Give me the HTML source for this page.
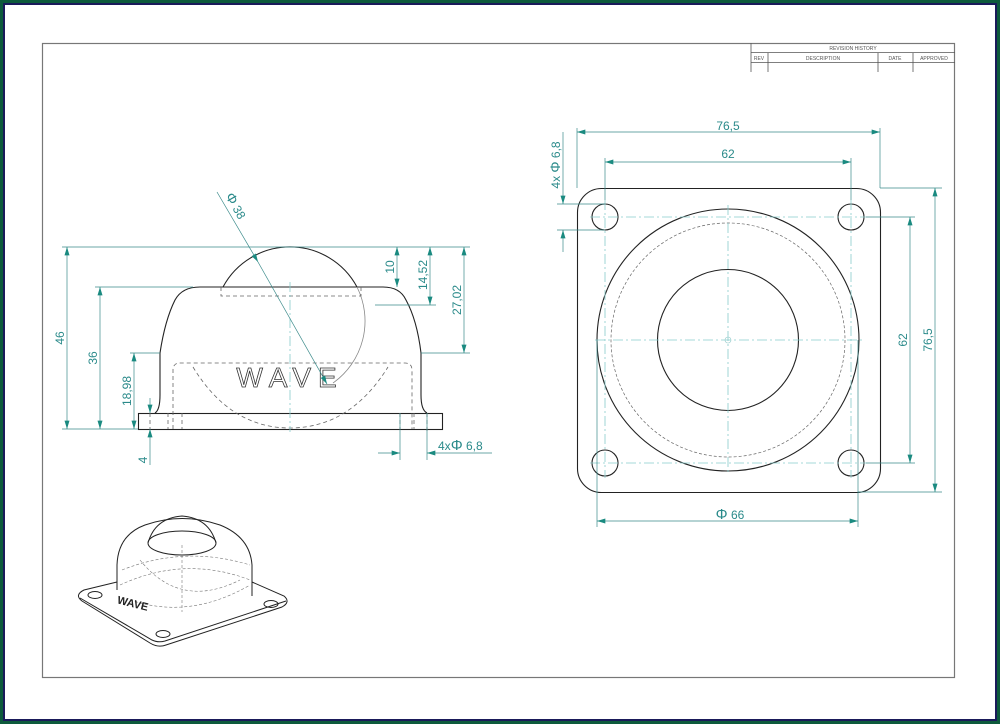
<!DOCTYPE html>
<html><head><meta charset="utf-8"><style>
html,body{margin:0;padding:0;background:#fff}
svg{display:block}
.t{font-family:"Liberation Sans",sans-serif;fill:#2a8a8a;font-size:12px}
</style></head><body>
<svg width="1000" height="724" viewBox="0 0 1000 724" xmlns="http://www.w3.org/2000/svg">
<defs>
<marker id="a" viewBox="0 0 10 6" refX="10" refY="3" markerWidth="10" markerHeight="5" orient="auto-start-reverse" markerUnits="userSpaceOnUse"><path d="M0,0L10,3L0,6z" fill="#1a8a80"/></marker>
</defs>
<rect x="0" y="0" width="1000" height="724" fill="#0d5a3c"/>
<rect x="3" y="3" width="994" height="718" fill="#1a1a5a"/>
<rect x="5" y="5" width="990" height="714" fill="#fff"/>
<rect x="42.5" y="43.5" width="912" height="634" fill="none" stroke="#777" stroke-width="1.2"/>
<g stroke="#555" stroke-width="0.8" fill="none">
<line x1="751" y1="43" x2="751" y2="72"/>
<line x1="751" y1="52.5" x2="955" y2="52.5"/>
<line x1="751" y1="62.5" x2="955" y2="62.5"/>
<line x1="768" y1="53" x2="768" y2="72"/>
<line x1="878" y1="53" x2="878" y2="72"/>
<line x1="913" y1="53" x2="913" y2="72"/>
</g>
<g font-family="Liberation Sans,sans-serif" font-size="5" fill="#555" text-anchor="middle">
<text x="853" y="50">REVISION HISTORY</text>
<text x="759" y="60">REV</text><text x="823" y="60">DESCRIPTION</text><text x="895" y="60">DATE</text><text x="934" y="60">APPROVED</text>
</g>

<g fill="none" stroke="#222" stroke-width="1.1">
<rect x="138.5" y="413.5" width="304" height="16"/>
<path d="M155,413 Q160,410 160,395 L160,353 Q165,320 175,300 Q182,287 200,287 L383,287 Q400,287 406,300 Q417,320 421,353 L421,395 Q421,410 427,413"/>
<path d="M223,287 A76,76 0 0 1 357,287"/>
</g>
<g fill="none" stroke="#888" stroke-width="0.8">
<path d="M357,287 A76,76 0 0 1 333,383"/>
</g>
<g fill="none" stroke="#666" stroke-width="0.8" stroke-dasharray="4,3">
<path d="M221,287 L221,296 L361,296 L361,287"/>
<path d="M173,429 L173,370 Q173,363 180,363 L405,363 Q412,363 412,370 L412,429"/>
<path d="M193,367 Q230,428 290,428 Q350,428 388,367"/>
<line x1="150" y1="413" x2="150" y2="429"/><line x1="168" y1="413" x2="168" y2="429"/><line x1="182" y1="413" x2="182" y2="429"/>
<line x1="400" y1="413" x2="400" y2="429"/><line x1="414" y1="413" x2="414" y2="429"/><line x1="427" y1="413" x2="427" y2="433"/>
</g>
<line x1="290" y1="282" x2="290" y2="432" stroke="#8cc" stroke-width="0.8" stroke-dasharray="10,3,2,3"/>
<text x="290" y="387" font-family="Liberation Sans,sans-serif" font-size="28" text-anchor="middle" letter-spacing="7" fill="#fff" stroke="#333" stroke-width="0.8">WAVE</text>
<g stroke="#3a8a8a" stroke-width="0.7" fill="none">
<line x1="62" y1="247" x2="470" y2="247"/>
<line x1="62" y1="429" x2="138" y2="429"/>
<line x1="95" y1="287" x2="193" y2="287"/>
<line x1="130" y1="353" x2="160" y2="353"/>
<line x1="375" y1="305" x2="436" y2="305"/>
<line x1="421" y1="353" x2="470" y2="353"/>
<line x1="67" y1="247" x2="67" y2="429" marker-start="url(#a)" marker-end="url(#a)"/>
<line x1="100" y1="287" x2="100" y2="429" marker-start="url(#a)" marker-end="url(#a)"/>
<line x1="134" y1="353" x2="134" y2="429" marker-start="url(#a)" marker-end="url(#a)"/>
<line x1="150" y1="398" x2="150" y2="413" marker-end="url(#a)"/>
<line x1="150" y1="465" x2="150" y2="429" marker-end="url(#a)"/>
<line x1="397" y1="247" x2="397" y2="287" marker-start="url(#a)" marker-end="url(#a)"/>
<line x1="430" y1="247" x2="430" y2="305" marker-start="url(#a)" marker-end="url(#a)"/>
<line x1="464" y1="247" x2="464" y2="353" marker-start="url(#a)" marker-end="url(#a)"/>
<line x1="378" y1="453" x2="400" y2="453" marker-end="url(#a)"/>
<line x1="492" y1="453" x2="427" y2="453" marker-end="url(#a)"/>
<line x1="400" y1="413" x2="400" y2="460"/>
<line x1="427" y1="413" x2="427" y2="460"/>
<line x1="217" y1="192" x2="258" y2="262" marker-end="url(#a)"/>
<line x1="258" y1="262" x2="327" y2="384" marker-end="url(#a)"/>
</g>
<g class="t">
<text transform="translate(64,338) rotate(-90)" text-anchor="middle">46</text>
<text transform="translate(97,358) rotate(-90)" text-anchor="middle">36</text>
<text transform="translate(131,391) rotate(-90)" text-anchor="middle">18,98</text>
<text transform="translate(147,460) rotate(-90)" text-anchor="middle">4</text>
<text transform="translate(394,267) rotate(-90)" text-anchor="middle">10</text>
<text transform="translate(427,275) rotate(-90)" text-anchor="middle">14,52</text>
<text transform="translate(461,300) rotate(-90)" text-anchor="middle">27,02</text>
<text x="438" y="450">4x<tspan font-size="15">Φ</tspan> 6,8</text>
<text transform="translate(225,196) rotate(60)"><tspan font-size="14">Φ</tspan> 38</text>
</g>

<g fill="none" stroke="#222" stroke-width="1.1">
<rect x="577.5" y="188.5" width="303" height="304" rx="24"/>
<circle cx="605" cy="217" r="13"/><circle cx="851" cy="217" r="13"/>
<circle cx="605" cy="463" r="13"/><circle cx="851" cy="463" r="13"/>
<circle cx="728" cy="340" r="131"/>
<circle cx="728" cy="340" r="70.5"/>
</g>
<circle cx="728" cy="340" r="117" fill="none" stroke="#666" stroke-width="0.7" stroke-dasharray="3,2"/>
<circle cx="728" cy="340" r="3" fill="none" stroke="#9cc" stroke-width="0.6"/>
<g stroke="#8cc" stroke-width="0.8" stroke-dasharray="10,3,2,3">
<line x1="595" y1="340" x2="862" y2="340"/>
<line x1="728" y1="205" x2="728" y2="475"/>
<line x1="590" y1="217" x2="866" y2="217"/>
<line x1="590" y1="463" x2="866" y2="463"/>
<line x1="605" y1="200" x2="605" y2="478"/>
<line x1="851" y1="200" x2="851" y2="478"/>
</g>
<g stroke="#3a8a8a" stroke-width="0.7" fill="none">
<line x1="577" y1="128" x2="577" y2="188"/><line x1="880" y1="128" x2="880" y2="188"/>
<line x1="577" y1="132" x2="880" y2="132" marker-start="url(#a)" marker-end="url(#a)"/>
<line x1="605" y1="158" x2="605" y2="200"/><line x1="851" y1="158" x2="851" y2="200"/>
<line x1="605" y1="162" x2="851" y2="162" marker-start="url(#a)" marker-end="url(#a)"/>
<line x1="866" y1="217" x2="915" y2="217"/><line x1="866" y1="463" x2="915" y2="463"/>
<line x1="910" y1="217" x2="910" y2="463" marker-start="url(#a)" marker-end="url(#a)"/>
<line x1="880" y1="188" x2="942" y2="188"/><line x1="858" y1="492" x2="942" y2="492"/>
<line x1="935" y1="188" x2="935" y2="492" marker-start="url(#a)" marker-end="url(#a)"/>
<line x1="597" y1="340" x2="597" y2="527"/><line x1="858" y1="340" x2="858" y2="527"/>
<line x1="597" y1="521" x2="858" y2="521" marker-start="url(#a)" marker-end="url(#a)"/>
<line x1="557" y1="204" x2="605" y2="204"/><line x1="557" y1="230" x2="605" y2="230"/>
<line x1="563" y1="132" x2="563" y2="204" marker-end="url(#a)"/>
<line x1="563" y1="252" x2="563" y2="230" marker-end="url(#a)"/>
</g>
<g class="t" text-anchor="middle">
<text x="728" y="130">76,5</text>
<text x="728" y="158">62</text>
<text transform="translate(907,340) rotate(-90)">62</text>
<text transform="translate(932,340) rotate(-90)">76,5</text>
<text x="730" y="519"><tspan font-size="15">Φ</tspan> 66</text>
<text transform="translate(560,165) rotate(-90)">4x <tspan font-size="14">Φ</tspan> 6,8</text>
</g>

<g fill="none" stroke="#222" stroke-width="1">
<path d="M117,582 L84,590 Q74,595 82,601 L150,643 Q158,648 166,645 L282,607 Q291,602 284,596 L252,582"/>
<path d="M80,598 L152,640 Q158,643 165,641 L286,601"/>
<path d="M117,590 L117,565 Q118,535 145,525 Q182,512 220,525 Q250,537 252,565 L252,596"/>
<ellipse cx="182" cy="543" rx="34" ry="12"/>
<path d="M148,543 Q155,518 182,516 Q209,518 216,543"/>
<ellipse cx="95" cy="595" rx="7" ry="3.5"/><ellipse cx="163" cy="634" rx="7" ry="3.5"/>
<ellipse cx="271" cy="604" rx="7" ry="3.5"/>
</g>
<g fill="none" stroke="#777" stroke-width="0.6" stroke-dasharray="3,2">
<path d="M120,585 Q185,555 250,580"/>
<path d="M122,570 Q185,545 250,565"/>
<path d="M130,600 Q190,620 250,585"/>
<path d="M140,560 Q180,610 240,580"/>
<line x1="182" y1="545" x2="182" y2="612"/>
</g>
<text x="117" y="606" font-family="Liberation Sans,sans-serif" font-size="11" font-weight="bold" fill="#222" transform="rotate(14,128,603)">WAVE</text>
</svg>
</body></html>
